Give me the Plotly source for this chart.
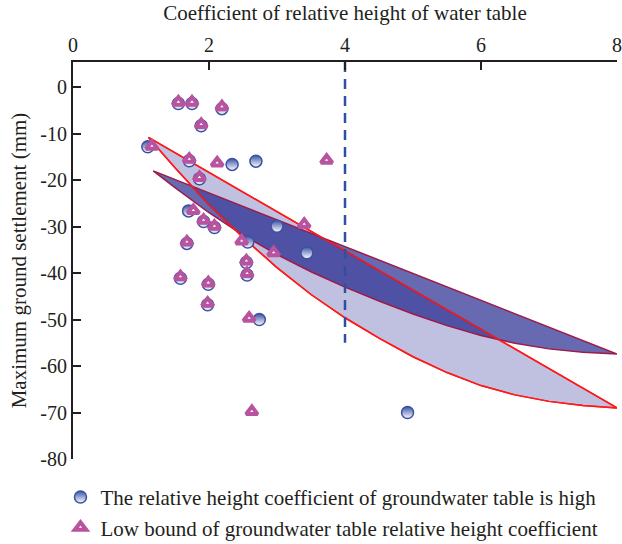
import plotly.graph_objects as go

# ---- data ----
# lens envelopes (x = coefficient, y = settlement in mm)
light_upper_x = [1.11, 8.0]
light_upper_y = [-10.8, -69.0]
light_lower_x = [1.11, 1.5, 2.0, 2.5, 3.0, 3.5, 4.0, 4.5, 5.0, 5.5, 6.0, 6.5, 7.0, 7.5, 8.0]
light_lower_y = [-10.8, -17.3, -25.3, -32.3, -38.8, -44.6, -49.6, -54.0, -58.0, -61.4, -64.2, -66.2, -67.6, -68.5, -69.0]

dark_upper_x = [1.18, 8.0]
dark_upper_y = [-18.0, -57.4]
dark_lower_x = [1.18, 1.5, 2.0, 2.5, 3.0, 3.5, 4.0, 4.5, 5.0, 5.5, 6.0, 6.5, 7.0, 7.5, 8.0]
dark_lower_y = [-18.0, -21.6, -27.0, -31.8, -36.0, -39.7, -43.0, -46.0, -48.8, -51.3, -53.4, -55.1, -56.3, -57.0, -57.4]

# dashed reference line
ref_x = 4
ref_y = [5.44, -55]

# high coefficient points (half-filled circles)
high_x = [1.10, 2.34, 2.69, 1.70, 2.57, 3.00, 3.44, 2.74, 4.92,
          1.55, 1.75, 2.19, 1.885, 1.71, 1.86, 1.92, 2.08, 1.675, 2.55, 2.56, 1.58, 1.99, 1.98]
high_y = [-12.8, -16.6, -15.9, -26.6, -33.3, -29.9, -35.6, -50.0, -70.0,
          -3.5, -3.5, -4.6, -8.3, -15.8, -19.7, -28.9, -30.2, -33.6, -37.7, -40.4, -41.1, -42.4, -46.8]

# low bound points (triangles)
low_x = [1.55, 1.75, 2.19, 1.885, 1.16, 1.71, 2.12, 1.86, 1.77, 1.92, 2.08, 1.675,
         2.48, 2.95, 2.55, 2.56, 1.58, 1.99, 1.98, 2.59, 2.63, 3.73, 3.40]
low_y = [-3.2, -3.2, -4.2, -8.0, -12.7, -15.5, -16.3, -19.4, -26.5, -28.6, -29.9, -33.3,
         -33.1, -35.6, -37.4, -40.1, -40.8, -42.1, -46.5, -49.7, -69.8, -15.7, -29.5]

x_ticks = [0, 2, 4, 6, 8]
y_ticks = [0, -10, -20, -30, -40, -50, -60, -70, -80]

x_title = "Coefficient of relative height of water table"
y_title = "Maximum ground settlement (mm)"
name_high = "The relative height coefficient of groundwater table is high"
name_low = "Low bound of groundwater table relative height coefficient"

FONT = "Liberation Serif"
BLUE = "#3a52a3"
MAG = "#b8539f"
INK = "#231f20"

light_poly_x = light_upper_x + light_lower_x[::-1]
light_poly_y = light_upper_y + light_lower_y[::-1]
dark_poly_x = dark_upper_x + dark_lower_x[::-1]
dark_poly_y = dark_upper_y + dark_lower_y[::-1]

fig = go.Figure()
fig.add_trace(go.Scatter(x=light_poly_x, y=light_poly_y, mode="lines", fill="toself",
                         fillcolor="#c0c0e0", line=dict(color="#ff1a1a", width=1.5),
                         showlegend=False, hoverinfo="skip"))
fig.add_trace(go.Scatter(x=dark_poly_x, y=dark_poly_y, mode="lines", fill="toself",
                         fillcolor="rgba(10,15,128,0.62)", line=dict(color="#9e1a4a", width=1.5),
                         showlegend=False, hoverinfo="skip"))
fig.add_trace(go.Scatter(x=light_poly_x + [light_poly_x[0]], y=light_poly_y + [light_poly_y[0]],
                         mode="lines", line=dict(color="#ff1a1a", width=1.5),
                         showlegend=False, hoverinfo="skip"))
fig.add_trace(go.Scatter(x=[ref_x, ref_x], y=ref_y, mode="lines",
                         line=dict(color="#2f4fa0", width=2.5, dash="10px,7px"),
                         showlegend=False, hoverinfo="skip"))
fig.add_trace(go.Scatter(x=high_x, y=high_y, mode="markers", name=name_high,
                         marker=dict(symbol="circle", size=12, color=BLUE,
                                     gradient=dict(type="vertical", color="white"),
                                     line=dict(color=BLUE, width=1.5))))
fig.add_trace(go.Scatter(x=low_x, y=low_y, mode="markers", name=name_low,
                         marker=dict(symbol="triangle-up", size=10, color="white",
                                     line=dict(color=MAG, width=4))))

axis_common = dict(showline=True, linecolor=INK, linewidth=2, ticks="inside",
                   ticklen=8, tickwidth=2, tickcolor=INK, showgrid=False,
                   zeroline=False, tickfont=dict(family=FONT, size=20, color=INK))

fig.update_layout(
    width=622, height=544,
    margin=dict(l=72.7, r=4.5, t=61.7, b=85, autoexpand=False),
    paper_bgcolor="white", plot_bgcolor="white",
    font=dict(family=FONT, size=21, color=INK),
    xaxis=dict(range=[0, 8], side="top", tickvals=x_ticks,
               ticktext=[str(v) for v in x_ticks], automargin=False,
               title=dict(text=x_title, font=dict(family=FONT, size=21), standoff=8),
               **axis_common),
    yaxis=dict(range=[-80, 5.44], tickvals=y_ticks,
               ticktext=[str(v) for v in y_ticks], automargin=False,
               title=dict(text=y_title, font=dict(family=FONT, size=21), standoff=8),
               **axis_common),
    legend=dict(x=-0.023, y=-0.045, xanchor="left", yanchor="top",
                bgcolor="rgba(0,0,0,0)", font=dict(family=FONT, size=21),
                tracegroupgap=0),
)

fig.write_html("out.html")
